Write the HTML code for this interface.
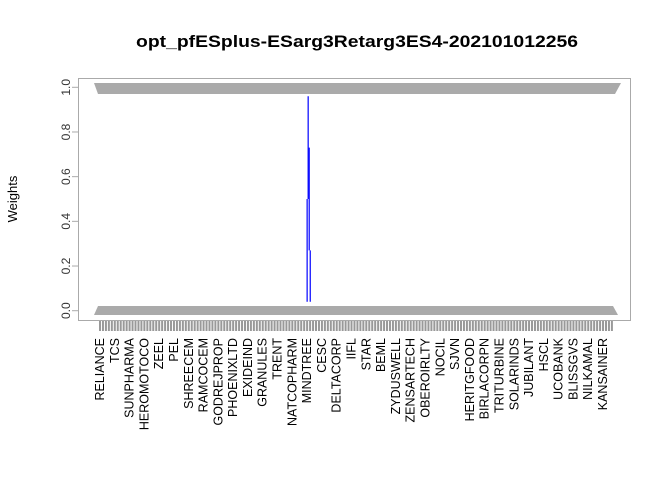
<!DOCTYPE html>
<html><head><meta charset="utf-8"><style>
body{margin:0;background:#fff}
svg{display:block;font-family:"Liberation Sans",Arial,sans-serif}
</style></head><body>
<svg id="chart" width="672" height="480" viewBox="0 0 672 480">
<text x="357" y="47" text-anchor="middle" font-weight="bold" font-size="17" textLength="442" lengthAdjust="spacingAndGlyphs">opt_pfESplus-ESarg3Retarg3ES4-202101012256</text>
<text transform="translate(17,199) rotate(-90)" text-anchor="middle" font-size="13">Weights</text>
<rect x="78.5" y="78.5" width="552" height="242" fill="none" stroke="#aaa" stroke-width="1"/>
<polygon points="94,83 621,83 615,94 98,94" fill="#aaa"/>
<polygon points="98,306 613,306 618,315 94,315" fill="#aaa"/>
<g id="yaxis"></g>
<g id="xaxis"></g>
<g id="series"></g>
</svg>
<script>
const labels=["RELIANCE","TCS","SUNPHARMA","HEROMOTOCO","ZEEL","PEL","SHREECEM","RAMCOCEM","GODREJPROP","PHOENIXLTD","EXIDEIND","GRANULES","TRENT","NATCOPHARM","MINDTREE","CESC","DELTACORP","IIFL","STAR","BEML","ZYDUSWELL","ZENSARTECH","OBEROIRLTY","NOCIL","SJVN","HERITGFOOD","BIRLACORPN","TRITURBINE","SOLARINDS","JUBILANT","HSCL","UCOBANK","BLISSGVS","NILKAMAL","KANSAINER"];
const nAssets=174;
const yTicks=[0,0.2,0.4,0.6,0.8,1.0];
const segIdx=[70,70.35,70.7,71.05];
const segLow=[0.04,0.5,0.27,0.04];
const segHigh=[0.5,0.96,0.73,0.27];
const NS="http://www.w3.org/2000/svg";
function X(i){return 100+i*2.959;}
function Y(v){return 310.7-v*223.4;}
function mk(t,a,p){const e=document.createElementNS(NS,t);for(const k in a)e.setAttribute(k,a[k]);p.appendChild(e);return e;}
const ya=document.getElementById('yaxis');
mk('line',{x1:78.5,x2:78.5,y1:Y(0),y2:Y(1),stroke:'#aaa'},ya);
yTicks.forEach(v=>{
 const l=mk('line',{x1:72,x2:78.5,y1:Y(v),y2:Y(v),stroke:'#aaa'},ya);
 
 
 const t=mk('text',{transform:`translate(70,${Y(v)}) rotate(-90)`,'text-anchor':'middle','font-size':12,fill:'#333'},ya);
 t.textContent=v.toFixed(1);
 
 
});
const xa=document.getElementById('xaxis');
for(let i=0;i<nAssets;i++){
 const l=mk('line',{x1:X(i),x2:X(i),y1:321,y2:331,stroke:'#999','stroke-width':2},xa);
 
 
}
labels.forEach((s,k)=>{
 const t=mk('text',{transform:`translate(${X(k*5)+4},338) rotate(-90)`,'text-anchor':'end','font-size':12.5},xa);
 t.textContent=s;
 
 
});
const sg=document.getElementById('series');
segIdx.forEach((ix,k)=>{
 const l=mk('line',{x1:X(ix),x2:X(ix),y1:Y(segLow[k]),y2:Y(segHigh[k]),stroke:'#0000ff','stroke-width':1.2},sg);
 
 
});
</script>
</body></html>
